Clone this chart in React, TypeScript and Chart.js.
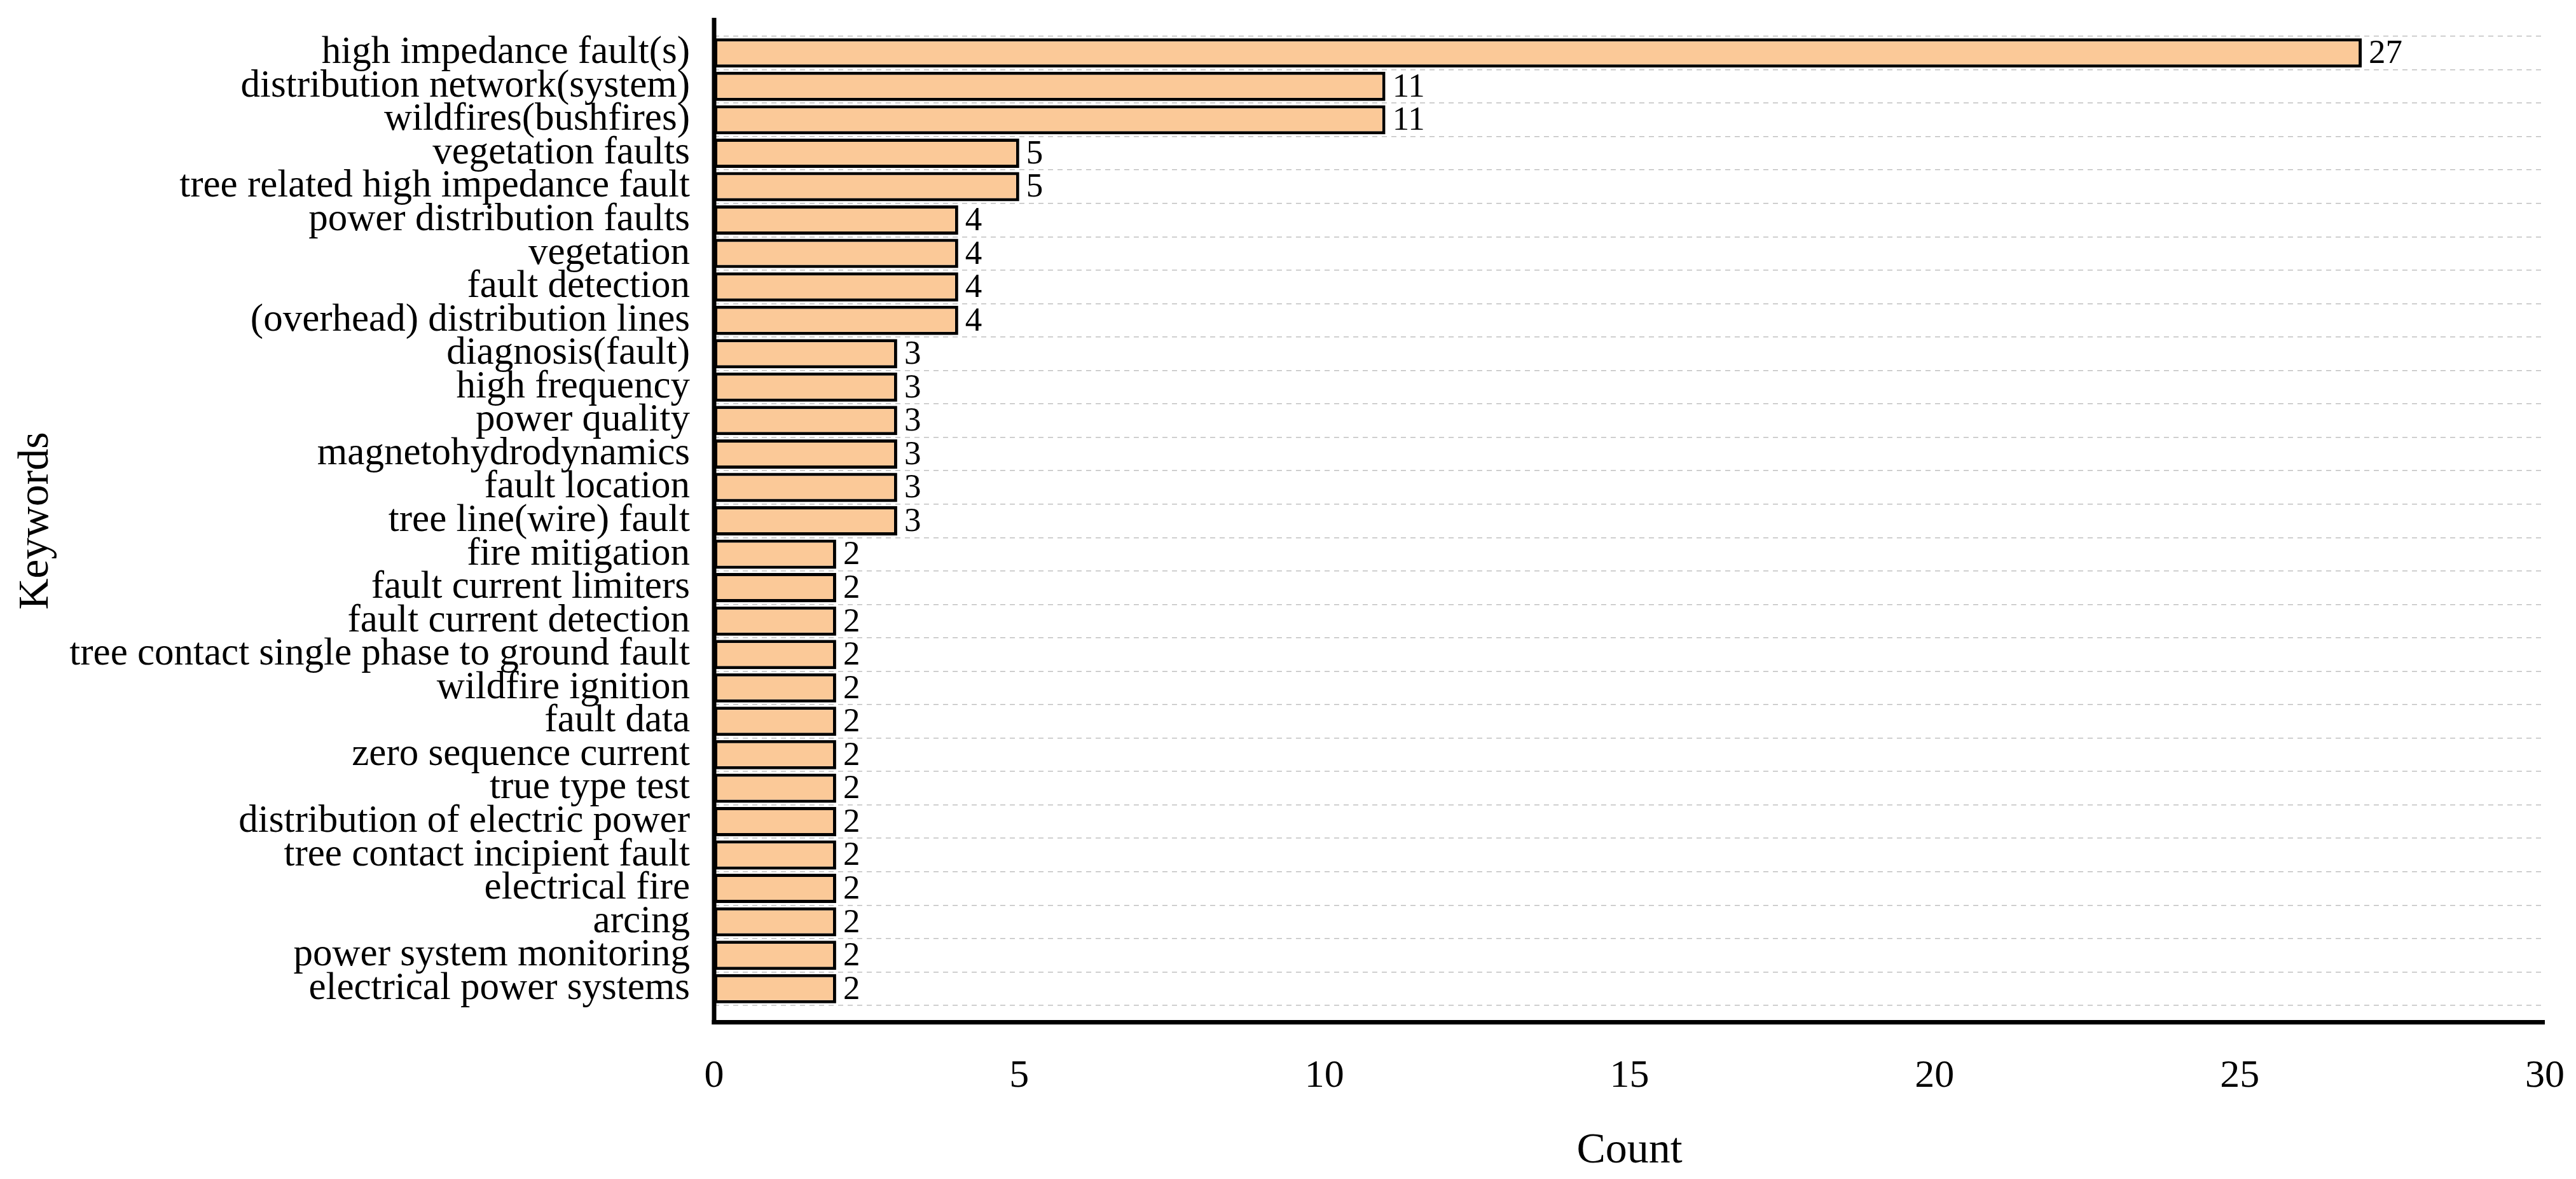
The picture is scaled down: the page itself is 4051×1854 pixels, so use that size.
import React, { useEffect, useRef } from "react";
import { Chart, registerables } from "chart.js";

Chart.register(...registerables);

const categories = [
  "high impedance fault(s)",
  "distribution network(system)",
  "wildfires(bushfires)",
  "vegetation faults",
  "tree related high impedance fault",
  "power distribution faults",
  "vegetation",
  "fault detection",
  "(overhead) distribution lines",
  "diagnosis(fault)",
  "high frequency",
  "power quality",
  "magnetohydrodynamics",
  "fault location",
  "tree line(wire) fault",
  "fire mitigation",
  "fault current limiters",
  "fault current detection",
  "tree contact single phase to ground fault",
  "wildfire ignition",
  "fault data",
  "zero sequence current",
  "true type test",
  "distribution of electric power",
  "tree contact incipient fault",
  "electrical fire",
  "arcing",
  "power system monitoring",
  "electrical power systems",
];

const counts = [27, 11, 11, 5, 5, 4, 4, 4, 4, 3, 3, 3, 3, 3, 3, 2, 2, 2, 2, 2, 2, 2, 2, 2, 2, 2, 2, 2, 2];

const xMin = 0;
const xMax = 30;
const xStep = 5;

const FONT = "'Liberation Serif', 'Times New Roman', serif";

export default function App() {
  const ref = useRef<HTMLCanvasElement>(null);

  useEffect(() => {
    document.body.style.margin = "0";
    if (!ref.current) return;

    const spinePlugin = {
      id: "spinesAndValues",
      afterDraw(chart: any) {
        const { ctx, chartArea } = chart;
        const xs = chart.scales.x;
        const x0 = xs.getPixelForValue(xMin);
        const x1 = xs.getPixelForValue(xMax);
        ctx.save();
        ctx.strokeStyle = "#000";
        ctx.lineCap = "butt";
        // left spine
        ctx.lineWidth = 7;
        ctx.beginPath();
        ctx.moveTo(x0, chartArea.top - 29);
        ctx.lineTo(x0, chartArea.bottom + 30);
        ctx.stroke();
        // bottom spine
        ctx.lineWidth = 7;
        ctx.beginPath();
        ctx.moveTo(x0 - 3.5, chartArea.bottom + 26.5);
        ctx.lineTo(x1, chartArea.bottom + 26.5);
        ctx.stroke();
        // value labels
        ctx.font = `53px ${FONT}`;
        ctx.fillStyle = "#000";
        ctx.textBaseline = "middle";
        ctx.textAlign = "left";
        const meta = chart.getDatasetMeta(0);
        meta.data.forEach((bar: any, i: number) => {
          ctx.fillText(String(counts[i]), bar.x + 11, bar.y + 2);
        });
        ctx.restore();
      },
    };

    const chart = new Chart(ref.current, {
      type: "bar",
      data: {
        labels: categories,
        datasets: [
          {
            data: counts,
            backgroundColor: "#FBC998",
            borderColor: "#000000",
            borderWidth: 5,
            borderSkipped: false,
            barPercentage: 0.875,
            categoryPercentage: 1,
          },
        ],
      },
      options: {
        indexAxis: "y",
        animation: false,
        responsive: true,
        maintainAspectRatio: false,
        layout: { padding: { top: 57, right: 49, left: 0, bottom: 0 } },
        plugins: {
          legend: { display: false },
          tooltip: { enabled: false },
        },
        scales: {
          x: {
            type: "linear",
            position: "bottom",
            min: xMin,
            max: xMax,
            ticks: {
              stepSize: xStep,
              color: "#000",
              font: { family: FONT, size: 62 },
              padding: 75,
            },
            grid: { display: false, drawTicks: false },
            border: { display: false },
            title: {
              display: true,
              text: "Count",
              color: "#000",
              font: { family: FONT, size: 68 },
              padding: { top: 0, bottom: 3 },
            },
            afterFit: (s: any) => {
              s.height = 273;
              s.paddingLeft = 0;
              s.paddingRight = 0;
              s.paddingTop = 0;
              s.paddingBottom = 0;
            },
          },
          y: {
            type: "category",
            offset: true,
            ticks: {
              color: "#000",
              font: { family: FONT, size: 61 },
              padding: 38,
              autoSkip: false,
            },
            grid: {
              color: "#c0c0c0",
              lineWidth: 1.5,
              offset: true,
              drawTicks: false,
            },
            border: { display: false, dash: [8, 7] },
            title: {
              display: true,
              text: "Keywords",
              color: "#000",
              font: { family: FONT, size: 68 },
              padding: { top: 16, bottom: 0 },
            },
            afterFit: (s: any) => {
              s.width = 1123;
              s.paddingLeft = 0;
              s.paddingRight = 0;
              s.paddingTop = 0;
              s.paddingBottom = 0;
            },
          },
        },
      },
      plugins: [spinePlugin],
    });

    return () => chart.destroy();
  }, []);

  return (
    <div style={{ position: "fixed", left: 0, top: 0, width: "100vw", height: "100vh" }}>
      <canvas ref={ref} />
    </div>
  );
}
